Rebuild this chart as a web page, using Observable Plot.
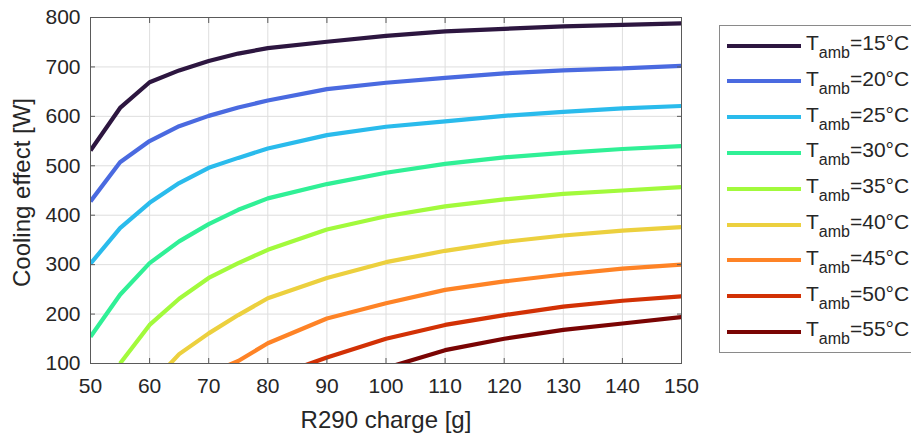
<!DOCTYPE html>
<html>
<head>
<meta charset="utf-8">
<script src="https://cdn.jsdelivr.net/npm/d3@7"></script>
<script src="https://cdn.jsdelivr.net/npm/@observablehq/plot@0.6"></script>
<style>
  html, body { margin: 0; padding: 0; background: #fff; }
  #wrap { position: relative; width: 911px; height: 435px; overflow: hidden; font-family: "Liberation Sans", Arial, sans-serif; }
  #legend { position: absolute; left: 719px; top: 25px; width: 210px; height: 328px; border: 1px solid #8a8a8a; background: #fff; box-sizing: border-box; }
  .row { position: absolute; left: 0; height: 36px; width: 200px; }
  .swatch { position: absolute; left: 7px; width: 74px; height: 4px; }
  .lab { position: absolute; left: 86px; font-size: 21px; color: #262626; white-space: nowrap; line-height: 1; }
  .lab sub { font-size: 16px; vertical-align: -8px; line-height: 0; }
</style>
</head>
<body>
<div id="wrap"></div>
<script>
// ---- data ----
const charge = [50, 55, 60, 65, 70, 75, 80, 90, 100, 110, 120, 130, 140, 150];
const tamb = [15, 20, 25, 30, 35, 40, 45, 50, 55];
const s15 = [531, 617, 669, 693, 712, 727, 738, 751, 763, 772, 777, 782, 785, 788];
const s20 = [428, 507, 550, 580, 601, 618, 632, 655, 668, 678, 687, 693, 697, 702];
const s25 = [302, 374, 425, 465, 496, 516, 535, 562, 579, 590, 601, 609, 616, 621];
const s30 = [154, 239, 303, 347, 382, 411, 434, 463, 486, 504, 517, 526, 534, 540];
const s35 = [null, 100, 178, 231, 273, 303, 330, 371, 398, 418, 432, 443, 450, 457];
const s40 = [null, null, 55, 119, 161, 198, 232, 273, 305, 328, 346, 359, 369, 376];
const s45 = [null, null, null, null, 80, 105, 141, 191, 222, 249, 266, 280, 292, 300];
const s50 = [null, null, null, null, null, null, 70, 112, 150, 178, 198, 215, 227, 236];
const s55 = [null, null, null, null, null, null, null, null, 91, 127, 150, 168, 181, 194];
const seriesValues = [s15, s20, s25, s30, s35, s40, s45, s50, s55];
const colors = ["#2d1640", "#4a6ae0", "#2abbec", "#30f096", "#a2fa3c", "#ecd03e", "#fe8326", "#d23105", "#7a0403"];
const xTicks = [50, 60, 70, 80, 90, 100, 110, 120, 130, 140, 150];
const yTicks = [100, 200, 300, 400, 500, 600, 700, 800];
const xLabel = "R290 charge [g]";
const yLabel = "Cooling effect [W]";

// ---- build table ----
const rows = [];
tamb.forEach((t, k) => {
  seriesValues[k].forEach((v, i) => {
    if (v != null) rows.push({charge: charge[i], value: v, t: `${t}`});
  });
});

const ink = "#262626";
const axisInk = "#5a5a5a";
const chart = Plot.plot({
  width: 911,
  height: 435,
  marginLeft: 90,
  marginRight: 230,
  marginTop: 17,
  marginBottom: 72,
  style: {fontFamily: "'Liberation Sans', Arial, sans-serif", fontSize: "21px", color: ink, background: "#fff"},
  x: {domain: [50, 150], ticks: xTicks, label: null},
  y: {domain: [100, 800], ticks: yTicks, label: null},
  color: {domain: tamb.map(String), range: colors},
  marks: [
    Plot.gridX(xTicks, {stroke: "#dedede", strokeOpacity: 1}),
    Plot.gridY(yTicks, {stroke: "#dedede", strokeOpacity: 1}),
    Plot.line(rows, {x: "charge", y: "value", z: "t", stroke: "t", strokeWidth: 4.2, clip: true, strokeLinejoin: "miter", strokeLinecap: "butt"}),
    Plot.frame({stroke: axisInk}),
    Plot.axisX(xTicks, {anchor: "bottom", tickSize: 0, tickPadding: 15, fontSize: 21, fill: ink, label: null}),
    Plot.axisX(xTicks, {anchor: "bottom", tickSize: -5, tickFormat: () => "", stroke: axisInk, label: null}),
    Plot.axisX(xTicks, {anchor: "top", tickSize: -5, tickFormat: () => "", stroke: axisInk, label: null}),
    Plot.axisY(yTicks, {anchor: "left", tickSize: 0, tickPadding: 10, fontSize: 21, fill: ink, label: null}),
    Plot.axisY(yTicks, {anchor: "left", tickSize: -5, tickFormat: () => "", stroke: axisInk, label: null}),
    Plot.axisY(yTicks, {anchor: "right", tickSize: -5, tickFormat: () => "", stroke: axisInk, label: null}),
    Plot.text([xLabel], {frameAnchor: "bottom", dy: 57, text: d => d, fontSize: 24, fill: ink, lineAnchor: "middle", textAnchor: "middle"}),
    Plot.text([yLabel], {frameAnchor: "left", dx: -68, dy: 2, rotate: -90, text: d => d, fontSize: 24, fill: ink, lineAnchor: "middle", textAnchor: "middle"})
  ]
});
const wrap = document.getElementById("wrap");
wrap.appendChild(chart);

// ---- legend ----
const legend = d3.select(wrap).append("div").attr("id", "legend");
tamb.forEach((t, k) => {
  const row = legend.append("div").attr("class", "row").style("top", `${k * 35.8}px`);
  row.append("div").attr("class", "swatch").style("top", `${17.5}px`).style("background", colors[k]);
  row.append("div").attr("class", "lab").style("top", `${6}px`)
    .html(`T<sub>amb</sub>=${t}°C`);
});
</script>
</body>
</html>
